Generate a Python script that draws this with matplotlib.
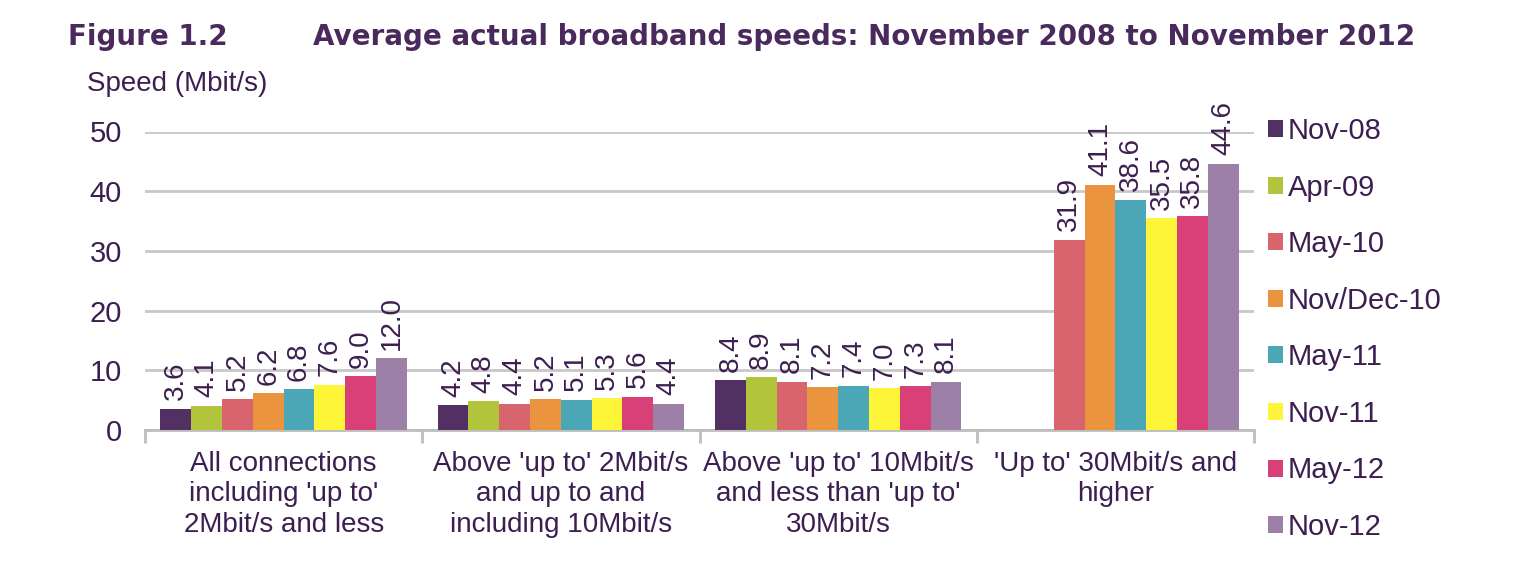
import matplotlib.pyplot as plt
import numpy as np

plt.rcParams['font.family'] = ['Liberation Sans', 'DejaVu Sans']

## Data
categories = [
    "All connections\nincluding 'up to'\n2Mbit/s and less",
    "Above 'up to' 2Mbit/s\nand up to and\nincluding 10Mbit/s",
    "Above 'up to' 10Mbit/s\nand less than 'up to'\n30Mbit/s",
    "'Up to' 30Mbit/s and\nhigher",
]
periods = ["Nov-08", "Apr-09", "May-10", "Nov/Dec-10", "May-11", "Nov-11", "May-12", "Nov-12"]
# one list per period, None where no value was published
nov08 = [3.6, 4.2, 8.4, None]
apr09 = [4.1, 4.8, 8.9, None]
may10 = [5.2, 4.4, 8.1, 31.9]
novdec10 = [6.2, 5.2, 7.2, 41.1]
may11 = [6.8, 5.1, 7.4, 38.6]
nov11 = [7.6, 5.3, 7.0, 35.5]
may12 = [9.0, 5.6, 7.3, 35.8]
nov12 = [12.0, 4.4, 8.1, 44.6]
series = [nov08, apr09, may10, novdec10, may11, nov11, may12, nov12]

colors = ["#533063", "#b2c43c", "#d8646e", "#ea9440", "#4ba7b6", "#fff538", "#d84077", "#9d80a8"]
text_col = "#3c1f50"

W, H = 1536, 573
fig = plt.figure(figsize=(W / 100, H / 100), dpi=100)
ax = fig.add_axes([145 / W, 1 - 430 / H, (1254 - 145) / W, (430 - 131.5) / H])

n = len(periods)
w = 1 / (n + 1)
x = np.arange(len(categories))
for j, (name, vals, c) in enumerate(zip(periods, series, colors)):
    xs = [xi + (j - (n - 1) / 2) * w for xi, v in zip(x, vals) if v is not None]
    ys = [v for v in vals if v is not None]
    ax.bar(xs, ys, width=w, color=c, label=name, zorder=3)
    for xx, yy in zip(xs, ys):
        ax.annotate("%.1f" % yy, (xx, yy), xytext=(0, 6), textcoords="offset points",
                    rotation=90, ha="center", va="bottom", fontsize=20,
                    color=text_col, zorder=4)

ax.set_xlim(-0.5, len(categories) - 0.5)
ax.set_ylim(0, 50)
ax.set_yticks(range(0, 51, 10))
ax.yaxis.grid(True, color="#c8c8c8", linewidth=2)
ax.set_axisbelow(True)
for s in ["top", "right", "left"]:
    ax.spines[s].set_visible(False)
ax.spines["bottom"].set_color("#bdbdbd")
ax.spines["bottom"].set_linewidth(2)

ax.tick_params(axis="y", length=0, pad=16.5, labelsize=21, labelcolor=text_col)
ax.set_xticks(x)
ax.set_xticklabels(categories, fontsize=20, color=text_col, linespacing=1.22)
ax.tick_params(axis="x", length=0, pad=15)
# category separator ticks
ax.set_xticks(np.arange(-0.5, len(categories)), minor=True)
ax.tick_params(axis="x", which="minor", length=9, width=2, color="#bdbdbd", direction="out")

ax.legend(loc="upper left", bbox_to_anchor=(1268 / W, 1 - 117 / H),
          bbox_transform=fig.transFigure, frameon=False, borderpad=0,
          fontsize=21, labelcolor=text_col, handlelength=0.52, handleheight=0.52,
          handletextpad=0.17, labelspacing=0.98, borderaxespad=0)

title_font = dict(fontsize=20, fontweight="bold", color="#4a2a5c", va="baseline",
                  family=["DejaVu Sans"])
fig.text(68 / W, 1 - 45 / H, "Figure 1.2", **title_font)
fig.text(313 / W, 1 - 45 / H,
         "Average actual broadband speeds: November 2008 to November 2012", **title_font)
fig.text(87 / W, 1 - 91 / H, "Speed (Mbit/s)", fontsize=20, color=text_col, va="baseline")

fig.savefig("out.png", dpi=100)
